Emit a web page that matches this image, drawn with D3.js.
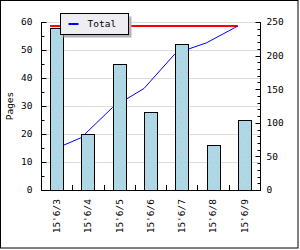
<!DOCTYPE html>
<html>
<head>
<meta charset="utf-8">
<script src="https://cdn.jsdelivr.net/npm/d3@7"></script>
<style>
  body { margin: 0; background: #fff; }
  text { font-family: "DejaVu Sans Mono", monospace; font-size: 9.5px; fill: #000; }
</style>
</head>
<body>
<svg width="300" height="250"></svg>
<script>
const categories = ["15'6/3", "15'6/4", "15'6/5", "15'6/6", "15'6/7", "15'6/8", "15'6/9"];
const pages = [58, 20, 45, 28, 52, 16, 25];
const leftTicks = [0, 10, 20, 30, 40, 50, 60];
const rightTicks = [0, 50, 100, 150, 200, 250];
const seriesName = 'Total';
const yTitle = 'Pages';

// running total for the line on the right axis
let acc = 0;
const totals = pages.map(v => (acc += v));
const grand = totals[totals.length - 1];

const plot = {left: 41, right: 260, top: 22, bottom: 190};

const svg = d3.select('svg');

svg.append('rect')
  .attr('x', 0.5).attr('y', 0.5)
  .attr('width', 297.5).attr('height', 247.5)
  .attr('fill', '#fff').attr('stroke', '#000');

const defs = svg.append('defs');
const pat = defs.append('pattern')
  .attr('id', 'dots')
  .attr('patternUnits', 'userSpaceOnUse')
  .attr('width', 5).attr('height', 10);
pat.append('rect').attr('width', 5).attr('height', 10).attr('fill', '#add8e6');
pat.append('rect').attr('x', 1).attr('y', 2).attr('width', 1).attr('height', 1).attr('fill', '#d7b9c4');
pat.append('rect').attr('x', 3).attr('y', 7).attr('width', 1).attr('height', 1).attr('fill', '#d7b9c4');

const x = d3.scaleBand().domain(categories).range([plot.left, plot.right]);
const yL = d3.scaleLinear().domain([0, 60]).range([plot.bottom, plot.top]);
const yR = d3.scaleLinear().domain([0, 250]).range([plot.bottom, plot.top]);

const barW = x.bandwidth() * 0.42;
const barX = d => x(d) + (x.bandwidth() - barW) / 2;

// grid
svg.append('g')
  .selectAll('line')
  .data(leftTicks.filter(t => t > 0))
  .join('line')
  .attr('x1', plot.left).attr('x2', plot.right)
  .attr('y1', d => Math.round(yL(d)) + 0.5)
  .attr('y2', d => Math.round(yL(d)) + 0.5)
  .attr('stroke', '#dcdcdc');

// total reference line
svg.append('line')
  .attr('x1', barX(categories[0])).attr('x2', barX(categories[categories.length - 1]))
  .attr('y1', yR(grand)).attr('y2', yR(grand))
  .attr('stroke', '#ff0000').attr('stroke-width', 2);

// running total line
svg.append('path')
  .datum(totals)
  .attr('fill', 'none')
  .attr('stroke', '#0000ff')
  .attr('stroke-width', 1)
  .attr('d', d3.line().x((d, i) => barX(categories[i])).y(d => yR(d)));

// bars
svg.append('g')
  .selectAll('rect')
  .data(pages)
  .join('rect')
  .attr('x', (d, i) => Math.round(barX(categories[i])) + 0.5)
  .attr('y', d => Math.round(yL(d)) + 0.5)
  .attr('width', Math.round(barW))
  .attr('height', d => Math.round(yL(0)) - Math.round(yL(d)))
  .attr('fill', 'url(#dots)')
  .attr('stroke', '#000');

// left axis
const leftAxis = svg.append('g').attr('transform', `translate(${plot.left + 0.5},0)`);
leftAxis.append('line').attr('y1', plot.top).attr('y2', plot.bottom + 0.5).attr('stroke', '#000');
leftAxis.selectAll('.mj').data(leftTicks).join('line')
  .attr('x1', 0).attr('x2', 5)
  .attr('y1', d => Math.round(yL(d)) + 0.5).attr('y2', d => Math.round(yL(d)) + 0.5)
  .attr('stroke', '#000');
leftAxis.selectAll('.mn').data(d3.range(5, 60, 10)).join('line')
  .attr('x1', 0).attr('x2', 3)
  .attr('y1', d => Math.round(yL(d)) + 0.5).attr('y2', d => Math.round(yL(d)) + 0.5)
  .attr('stroke', '#000');
leftAxis.selectAll('text').data(leftTicks).join('text')
  .attr('x', -9).attr('y', d => yL(d)).attr('dy', '0.35em')
  .attr('text-anchor', 'end')
  .text(d => d);

// right axis
const rightAxis = svg.append('g').attr('transform', `translate(${plot.right + 0.5},0)`);
rightAxis.append('line').attr('y1', plot.top).attr('y2', plot.bottom + 0.5).attr('stroke', '#000');
rightAxis.selectAll('.mn').data(d3.range(10, 250, 10)).join('line')
  .attr('x1', 0).attr('x2', -3)
  .attr('y1', d => Math.round(yR(d)) + 0.5).attr('y2', d => Math.round(yR(d)) + 0.5)
  .attr('stroke', '#000');
rightAxis.selectAll('.mj').data(rightTicks).join('line')
  .attr('x1', 0).attr('x2', -5)
  .attr('y1', d => Math.round(yR(d)) + 0.5).attr('y2', d => Math.round(yR(d)) + 0.5)
  .attr('stroke', '#000');
rightAxis.selectAll('text').data(rightTicks).join('text')
  .attr('x', 6).attr('y', d => yR(d)).attr('dy', '0.35em')
  .text(d => d);

// bottom axis
const bottomAxis = svg.append('g');
bottomAxis.append('line')
  .attr('x1', plot.left).attr('x2', plot.right + 1)
  .attr('y1', plot.bottom + 0.5).attr('y2', plot.bottom + 0.5)
  .attr('stroke', '#000');
bottomAxis.selectAll('.tk').data(categories.slice(1)).join('line')
  .attr('x1', d => Math.round(x(d)) + 0.5).attr('x2', d => Math.round(x(d)) + 0.5)
  .attr('y1', plot.bottom).attr('y2', plot.bottom - 5)
  .attr('stroke', '#000');
bottomAxis.selectAll('text').data(categories).join('text')
  .attr('transform', d => `translate(${x(d) + x.bandwidth() / 2},${plot.bottom + 9}) rotate(-90)`)
  .attr('dy', '0.35em')
  .attr('text-anchor', 'end')
  .text(d => d);

// axis title
svg.append('text')
  .attr('transform', `translate(10,${(plot.top + plot.bottom) / 2}) rotate(-90)`)
  .attr('dy', '0.35em')
  .attr('text-anchor', 'middle')
  .text(yTitle);

// legend
const lg = svg.append('g').attr('transform', 'translate(60.5,13.5)');
lg.append('rect').attr('x', 3).attr('y', 3).attr('width', 68).attr('height', 21).attr('fill', '#b4b4b4');
lg.append('rect').attr('width', 68).attr('height', 21).attr('fill', '#eeeef2').attr('stroke', '#000');
lg.append('line').attr('x1', 8).attr('x2', 18).attr('y1', 10.5).attr('y2', 10.5)
  .attr('stroke', '#0000ff').attr('stroke-width', 2);
lg.append('text').attr('x', 27).attr('y', 10.5).attr('dy', '0.35em').text(seriesName);
</script>
</body>
</html>
